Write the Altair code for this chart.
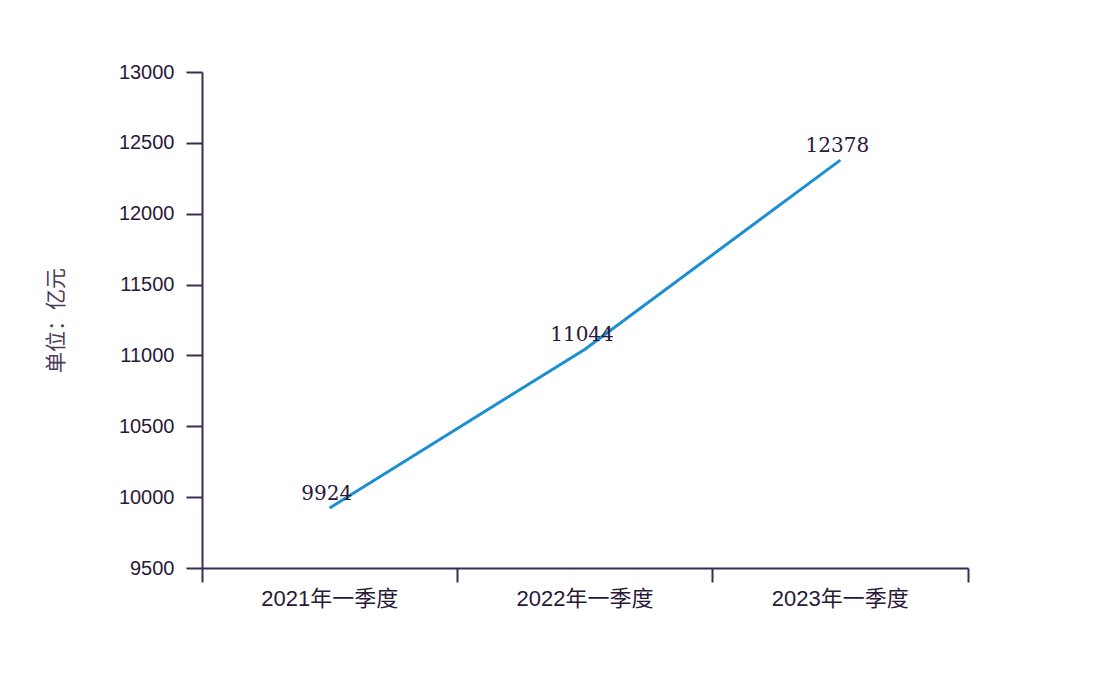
import altair as alt
import pandas as pd

quarters = ["2021年一季度", "2022年一季度", "2023年一季度"]
values = [9924, 11044, 12378]
y_ticks = [9500, 10000, 10500, 11000, 11500, 12000, 12500, 13000]

df = pd.DataFrame({"q": quarters, "v": values})

W, H = 766, 496
axis_color = "#3b2b55"
text_color = "#2a1838"

x_enc = alt.X(
    "q:N",
    sort=quarters,
    scale=alt.Scale(type="band", paddingInner=0, paddingOuter=0),
    axis=alt.Axis(
        title=None,
        bandPosition=1,
        tickExtra=True,
        labelAngle=0,
        tickSize=14,
        tickWidth=2,
        tickColor=axis_color,
        domainColor=axis_color,
        domainWidth=2,
        labelFont='"Liberation Sans", "Noto Sans CJK SC"',
        labelFontSize=22,
        labelColor=text_color,
        labelPadding=6,
        grid=False,
    ),
)
y_enc = alt.Y(
    "v:Q",
    scale=alt.Scale(domain=[9500, 13000], nice=False, zero=False),
    axis=alt.Axis(
        title="单位：亿元",
        values=y_ticks,
        format="d",
        tickSize=16,
        tickWidth=2,
        tickColor=axis_color,
        domainColor=axis_color,
        domainWidth=2,
        labelFont='"Liberation Sans"',
        labelFontSize=20,
        labelColor=text_color,
        labelPadding=12,
        titleFont='"Noto Sans CJK SC"',
        titleFontSize=21,
        titleFontWeight="normal",
        titleColor="#4a3a5a",
        titlePadding=52,
        grid=False,
    ),
)

line = alt.Chart(df).mark_line(color="#1b8fd2", strokeWidth=3).encode(x=x_enc, y=y_enc)
labels = alt.Chart(df).mark_text(
    font="DejaVu Serif", fontSize=20, color=text_color, dy=-14, dx=-3, baseline="middle"
).encode(x=x_enc, y=y_enc, text=alt.Text("v:Q", format="d"))

chart = (
    alt.layer(line, labels)
    .properties(
        width=W,
        height=H,
        autosize=alt.AutoSizeParams(type="none"),
        padding={"left": 194, "top": 64, "right": 132, "bottom": 108},
        background="white",
    )
    .configure_view(stroke=None)
)

chart.save("out.html", embed_options={"renderer": "svg", "actions": False})
